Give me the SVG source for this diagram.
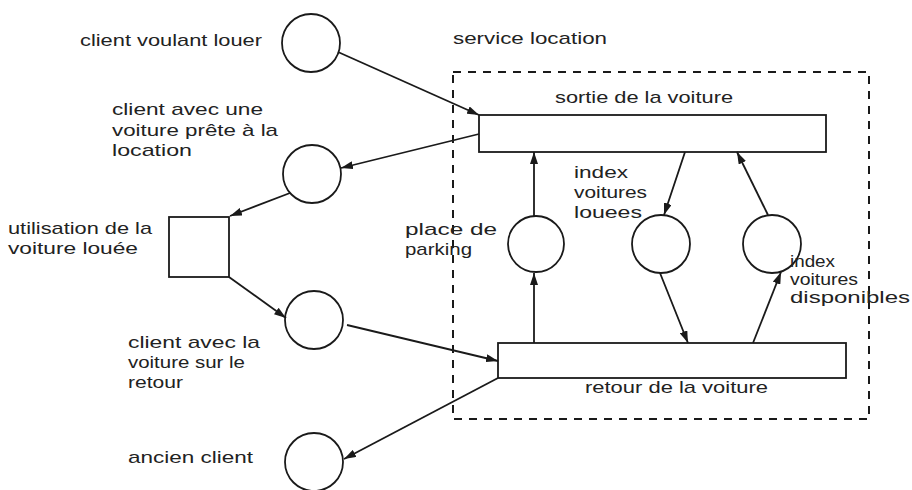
<svg xmlns="http://www.w3.org/2000/svg" width="912" height="490" viewBox="0 0 912 490">
<defs>
<style>
.n{fill:none;stroke:#1a1a1a;stroke-width:1.8}
.e{fill:none;stroke:#1a1a1a;stroke-width:1.8;marker-end:url(#ah)}
.t{font-family:"Liberation Sans","DejaVu Sans",sans-serif;font-size:17px;fill:#222}
.box{fill:none;stroke:#1a1a1a;stroke-width:2;stroke-dasharray:8 7}
</style>
<marker id="ah" viewBox="0 0 12 8" refX="12" refY="4" markerWidth="12" markerHeight="8" markerUnits="userSpaceOnUse" orient="auto">
<path d="M0,0 L12,4 L0,8 Z" fill="#1a1a1a"/>
</marker>
</defs>
<rect width="912" height="490" fill="#fff"/>
<g id="service-location">
<rect class="box" x="453" y="72" width="416" height="347"/>
<text class="t" x="453" y="44" textLength="154" lengthAdjust="spacingAndGlyphs">service location</text>
</g>
<g id="client-voulant-louer">
<circle class="n" cx="311" cy="43" r="29"/>
<text class="t" x="80" y="46" textLength="182" lengthAdjust="spacingAndGlyphs">client voulant louer</text>
</g>
<g id="client-voiture-prete">
<circle class="n" cx="312" cy="174" r="29"/>
<text class="t" x="112" y="115" textLength="151" lengthAdjust="spacingAndGlyphs">client avec une</text>
<text class="t" x="112" y="136" textLength="166" lengthAdjust="spacingAndGlyphs">voiture prête à la</text>
<text class="t" x="112" y="156" textLength="80" lengthAdjust="spacingAndGlyphs">location</text>
</g>
<g id="utilisation">
<rect class="n" x="169" y="217" width="60" height="60"/>
<text class="t" x="8" y="234" textLength="144" lengthAdjust="spacingAndGlyphs">utilisation de la</text>
<text class="t" x="8" y="254" textLength="130" lengthAdjust="spacingAndGlyphs">voiture louée</text>
</g>
<g id="client-retour">
<circle class="n" cx="314" cy="320" r="29"/>
<text class="t" x="128" y="348" textLength="132" lengthAdjust="spacingAndGlyphs">client avec la</text>
<text class="t" x="128" y="368" textLength="117" lengthAdjust="spacingAndGlyphs">voiture sur le</text>
<text class="t" x="128" y="388" textLength="55" lengthAdjust="spacingAndGlyphs">retour</text>
</g>
<g id="ancien-client">
<circle class="n" cx="314" cy="462" r="29"/>
<text class="t" x="128" y="463" textLength="125" lengthAdjust="spacingAndGlyphs">ancien client</text>
</g>
<g id="sortie">
<rect class="n" x="479" y="115" width="347" height="37"/>
<text class="t" x="555" y="103" textLength="178" lengthAdjust="spacingAndGlyphs">sortie de la voiture</text>
</g>
<g id="retour">
<rect class="n" x="498" y="343" width="348" height="35"/>
<text class="t" x="585" y="393" textLength="183" lengthAdjust="spacingAndGlyphs">retour de la voiture</text>
</g>
<g id="place-parking">
<circle class="n" cx="536" cy="244" r="28"/>
<text class="t" x="405" y="235" textLength="92" lengthAdjust="spacingAndGlyphs">place de</text>
<text class="t" x="405" y="255" textLength="67" lengthAdjust="spacingAndGlyphs">parking</text>
</g>
<g id="index-louees">
<circle class="n" cx="661" cy="244" r="29"/>
<text class="t" x="574" y="178" textLength="54" lengthAdjust="spacingAndGlyphs">index</text>
<text class="t" x="574" y="198" textLength="73" lengthAdjust="spacingAndGlyphs">voitures</text>
<text class="t" x="574" y="218" textLength="68" lengthAdjust="spacingAndGlyphs">louees</text>
</g>
<g id="index-disponibles">
<circle class="n" cx="772" cy="244" r="29"/>
<text class="t" x="790" y="267" textLength="45" lengthAdjust="spacingAndGlyphs">index</text>
<text class="t" x="790" y="285" textLength="68" lengthAdjust="spacingAndGlyphs">voitures</text>
<text class="t" x="790" y="303" textLength="120" lengthAdjust="spacingAndGlyphs">disponibles</text>
</g>
<g id="connectors">
<line class="e" x1="338" y1="52" x2="479" y2="115"/>
<line class="e" x1="479" y1="134" x2="341" y2="168"/>
<line class="e" x1="290" y1="193" x2="230" y2="216"/>
<line class="e" x1="229" y1="277" x2="286" y2="318"/>
<line class="e" x1="347" y1="325" x2="498" y2="361"/>
<line class="e" x1="498" y1="378" x2="344" y2="459"/>
<line class="e" x1="534" y1="216" x2="534" y2="152"/>
<line class="e" x1="534" y1="343" x2="534" y2="273"/>
<line class="e" x1="685" y1="152" x2="664" y2="215"/>
<line class="e" x1="660" y1="273" x2="688" y2="343"/>
<line class="e" x1="753" y1="343" x2="781" y2="272"/>
<line class="e" x1="768" y1="215" x2="737" y2="152"/>
</g>
</svg>
